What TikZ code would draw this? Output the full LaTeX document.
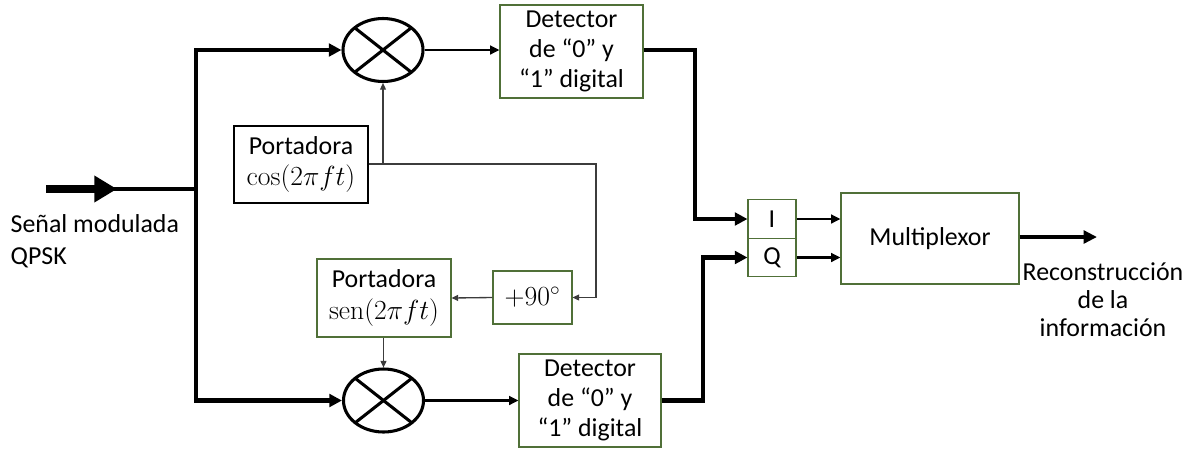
\documentclass[tikz,border=0pt]{standalone}
\usepackage[no-math]{fontspec}
\setmainfont{Carlito}
\usetikzlibrary{arrows.meta,shapes.geometric,calc}
\definecolor{gborder}{RGB}{80,112,56}
\definecolor{thingray}{RGB}{60,60,60}
\newcommand{\mymath}[1]{{\fontsize{20.5}{24}\selectfont$#1$}}
\begin{document}
\begin{tikzpicture}[x=0.75pt,y=-0.75pt,
  every node/.style={font=\fontsize{19.4}{22.5}\selectfont},
  gbox/.style={draw=gborder,line width=0.8pt,inner sep=0pt,align=center,fill=white},
  kbox/.style={draw=black,line width=0.8pt,inner sep=0pt,align=center,fill=white},
  mixer/.style={draw=black,ellipse,line width=2.3pt,inner sep=0pt,minimum width=60pt,minimum height=47.25pt},
  thk/.style={line width=3.4pt,line join=miter,-{Triangle[length=9.5pt,width=9.5pt]}},
  med/.style={line width=2.2pt,-{Triangle[length=7pt,width=6.5pt]}},
  thn/.style={line width=1pt,draw=thingray,-{Triangle[length=5pt,width=4.5pt]}}
]
\useasboundingbox (0,0) rectangle (1197,451);

% blocks
\node[mixer] (mix1) at (383,50) {};
\node[mixer] (mix2) at (383.5,400.5) {};
\node[gbox,minimum width=107.25pt,minimum height=69.75pt] (det1) at (571.5,51.5) {Detector\\de ``0'' y\\``1'' digital};
\node[gbox,minimum width=106.5pt,minimum height=69.75pt] (det2) at (590,400.5) {Detector\\de ``0'' y\\``1'' digital};
\node[kbox,minimum width=100.5pt,minimum height=57.75pt,font=\fontsize{19.4}{23.5}\selectfont] (cosb) at (301,164.5) {Portadora\\\mymath{\cos(2\pi f t)}};
\node[gbox,minimum width=100.5pt,minimum height=58.5pt,font=\fontsize{19.4}{24}\selectfont] (senb) at (384,298) {Portadora\\\mymath{\mathrm{sen}(2\pi f t)}};
\node[gbox,minimum width=59.25pt,minimum height=39.75pt] (p90) at (532.5,297.5) {\mymath{+90^{\circ}}};
\node[gbox,minimum width=36pt,minimum height=28.9pt] (Ib) at (772,219) {I};
\node[gbox,minimum width=36pt,minimum height=28.9pt] (Qb) at (772,257.5) {Q};
\node[gbox,minimum width=133.5pt,minimum height=68.25pt] (mux) at (930,238.5) {Multiplexor};

% X marks inside mixers
\foreach \m in {mix1,mix2}{
  \draw[line width=2.3pt] ($(\m.center)+(-28,-22)$) -- ($(\m.center)+(28,22)$);
  \draw[line width=2.3pt] ($(\m.center)+(-28,22)$) -- ($(\m.center)+(28,-22)$);
}

% labels
\node[anchor=west,align=left,font=\fontsize{19.4}{24}\selectfont] (inlab) at (6,241) {Señal modulada\\QPSK};
\node[align=center,font=\fontsize{19.4}{21}\selectfont] (outlab) at (1103,300) {Reconstrucción\\de la\\información};

% input
\coordinate (in) at (46,189);
\coordinate (inhead) at (117,189);
\coordinate (inmid) at (100,189);
\coordinate (j) at (196,189);
\draw[line width=6pt,-{Triangle[length=17pt,width=19pt]}] (in) -- (inhead);
\draw[line width=3.2pt] (inmid) -- (j);
\draw[thk] (j) |- (mix1.west);
\draw[thk] (j) |- (mix2.west);

% carrier connections
\coordinate (cj) at (383,164);
\coordinate (cr) at (596,164);
\draw[thn,-] (cosb.east |- cj) -- (cj);
\draw[thn] (cj) -- (mix1.south);
\draw[thn] (cj) -- (cr) |- (p90.east);
\draw[thn] (p90.west) -- (senb.east);
\draw[thn] (senb.south -| mix2.north) -- (mix2.north);

% mixers to detectors
\draw[med] (mix1.east) -- (mix1.east -| det1.west);
\draw[med] (mix2.east) -- (mix2.east -| det2.west);

% detectors to I/Q
\coordinate (c1) at (695,219);
\coordinate (c2) at (703,257.5);
\draw[thk] (det1.east |- mix1.east) -| (c1) -- (Ib.west);
\draw[thk] (det2.east) -| (c2) -- (Qb.west);

% I/Q to multiplexor
\draw[med] (Ib.east) -- (Ib.east -| mux.west);
\draw[med] (Qb.east) -- (Qb.east -| mux.west);

% output
\coordinate (out) at (1097,237);
\draw[line width=3pt,-{Triangle[length=10pt,width=9.5pt]}] (mux.east |- out) -- (out);
\end{tikzpicture}
\end{document}
